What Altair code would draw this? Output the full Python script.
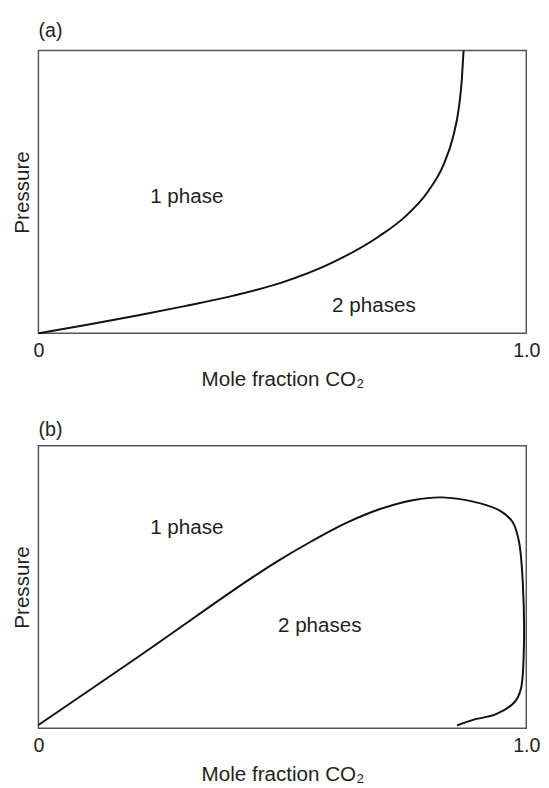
import altair as alt
import pandas as pd

FONT = "Liberation Sans"

# Panel (a) boundary curve
a_x = [0.0, 0.1, 0.2, 0.3, 0.4, 0.5, 0.6, 0.7, 0.75, 0.8, 0.83, 0.85, 0.862, 0.868, 0.8715]
a_y = [0.0, 0.030, 0.062, 0.096, 0.133, 0.180, 0.248, 0.345, 0.41, 0.505, 0.595, 0.695, 0.80, 0.90, 1.0]

# Panel (b) boundary curve (traced in order)
b_x = [0.0, 0.207, 0.418, 0.488, 0.559, 0.629, 0.699, 0.770, 0.827, 0.891, 0.945, 0.972,
       0.985, 0.993, 0.995, 0.989, 0.977, 0.938, 0.891, 0.858]
b_y = [0.012, 0.256, 0.510, 0.589, 0.661, 0.725, 0.775, 0.808, 0.817, 0.802, 0.771, 0.730,
       0.661, 0.51, 0.279, 0.14, 0.095, 0.05, 0.030, 0.010]

# Region labels
a_lab = ["1 phase", "2 phases"]
a_lab_x = [0.229, 0.602]
a_lab_y = [0.483, 0.097]
b_lab = ["1 phase", "2 phases"]
b_lab_x = [0.229, 0.491]
b_lab_y = [0.708, 0.361]

tick_vals = [0, 1]
panel_titles = ["(a)", "(b)"]
INK = "#231f20"


def panel(cx, cy, labs, lx, ly, title, interp):
    curve = pd.DataFrame({"x": cx, "y": cy, "o": list(range(len(cx)))})
    texts = pd.DataFrame({"t": labs, "x": lx, "y": ly})
    xs = alt.Scale(domain=[0, 1], nice=False, zero=False)
    ys = alt.Scale(domain=[0, 1], nice=False, zero=False)
    xaxis = alt.Axis(
        values=tick_vals, ticks=False, grid=False, domain=False,
        labelExpr="datum.value == 0 ? '0' : '1.0'",
        labelFontSize=20, labelFont=FONT, labelColor=INK,
        labelPadding=8, labelFlush=False,
        title="Mole fraction CO\u2082", titleFontSize=21, titleFont=FONT,
        titleFontWeight="normal", titleColor=INK, titlePadding=8.5,
    )
    yaxis = alt.Axis(
        labels=False, ticks=False, grid=False, domain=False,
        title="Pressure", titleFontSize=21, titleFont=FONT,
        titleFontWeight="normal", titleColor=INK, titlePadding=6,
    )
    line = alt.Chart(curve).mark_line(
        color="#111", strokeWidth=2, interpolate=interp
    ).encode(
        x=alt.X("x:Q", scale=xs, axis=xaxis),
        y=alt.Y("y:Q", scale=ys, axis=yaxis),
        order="o:Q",
    )
    txt = alt.Chart(texts).mark_text(
        align="left", baseline="middle", fontSize=21, font=FONT, color=INK
    ).encode(x=alt.X("x:Q", scale=xs), y=alt.Y("y:Q", scale=ys), text="t:N")
    return alt.layer(line, txt).properties(
        width=497, height=288,
        title=alt.TitleParams(title, anchor="start", frame="group", fontSize=20,
                              font=FONT, fontWeight="normal", color=INK, offset=6),
    )


pa = panel(a_x, a_y, a_lab, a_lab_x, a_lab_y, panel_titles[0], "monotone")
pb = panel(b_x, b_y, b_lab, b_lab_x, b_lab_y, panel_titles[1], "catmull-rom")

chart = alt.vconcat(pa, pb, spacing=28.5).properties(
    padding={"left": 3, "top": 5, "right": 0, "bottom": 0}
).configure_view(stroke="#555", strokeWidth=1.5)

chart.save("out.html", embed_options={"renderer": "svg", "actions": False})
